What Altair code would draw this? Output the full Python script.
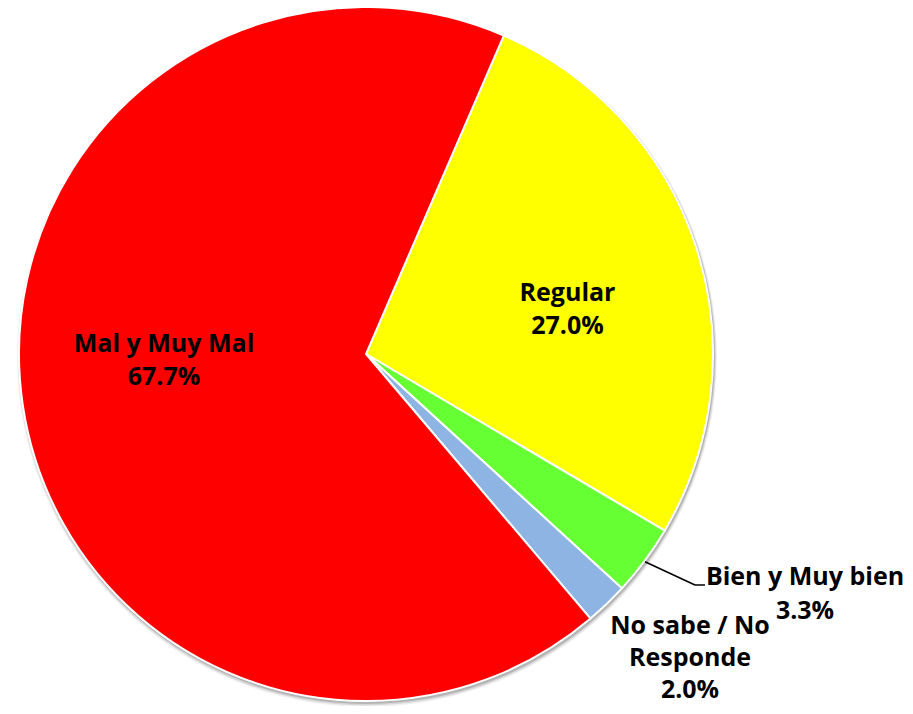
import math
import altair as alt
import pandas as pd

categories = ["Regular", "Bien y Muy bien", "No sabe / No Responde", "Mal y Muy Mal"]
values = [27.0, 3.3, 2.0, 67.7]
colors = ["#FFFF00", "#66FF33", "#8DB4E2", "#FF0000"]
label_lines = [
    ["Regular", "27.0%"],
    ["Bien y Muy bien", "3.3%"],
    ["No sabe / No", "Responde", "2.0%"],
    ["Mal y Muy Mal", "67.7%"],
]

df = pd.DataFrame({
    "cat": categories,
    "value": values,
    "idx": list(range(len(categories))),
    "label": ["\n".join(l) for l in label_lines],
})

start = math.radians(23.4)
CX, CY, R = 358, 346, 347
FONT = "Open Sans"

theta = alt.Theta("value:Q", stack=True, scale=alt.Scale(range=[start, start + 2 * math.pi]))
base = alt.Chart(df)

shadows = []
for dr, dx, dy, op in [(3, 1, 3, 0.06), (2, 1, 2.5, 0.10), (1, 1, 2, 0.16)]:
    shadows.append(
        base.mark_arc(outerRadius=R + dr, color="#000000", opacity=op, strokeWidth=0).encode(
            theta=theta, order=alt.Order("idx:O"),
            x=alt.value(CX + dx), y=alt.value(CY + dy),
        )
    )

pie = base.mark_arc(outerRadius=R, stroke="white", strokeWidth=2).encode(
    theta=theta,
    order=alt.Order("idx:O"),
    color=alt.Color("cat:N", scale=alt.Scale(domain=categories, range=colors), legend=None),
    x=alt.value(CX), y=alt.value(CY),
)

label_pos = {
    "Regular": (559.5, 292.7),
    "Bien y Muy bien": (797, 577),
    "No sabe / No Responde": (682, 626),
    "Mal y Muy Mal": (156, 343.7),
}
texts = []
for cat, (lx, ly) in label_pos.items():
    texts.append(
        base.transform_filter(alt.datum.cat == cat).mark_text(
            font=FONT, fontWeight="bold", fontSize=25, lineBreak="\n",
            lineHeight=32 if cat.startswith("No sabe") else 33.5,
            align="center", baseline="alphabetic", color="black",
        ).encode(text="label:N", x=alt.value(lx), y=alt.value(ly))
    )

lead1 = base.transform_filter(alt.datum.cat == "Bien y Muy bien").mark_rule(color="black", strokeWidth=1.5).encode(
    x=alt.value(637), y=alt.value(553.7), x2=alt.value(687), y2=alt.value(577))
lead2 = base.transform_filter(alt.datum.cat == "Bien y Muy bien").mark_rule(color="black", strokeWidth=1.5).encode(
    x=alt.value(687), y=alt.value(577), x2=alt.value(697), y2=alt.value(577))

chart = alt.layer(*shadows, pie, *texts, lead1, lead2).properties(
    width=897, height=698, autosize=alt.AutoSizeParams(type="none"), padding=0,
).configure_view(stroke=None)

chart.save("out.html", embed_options={"renderer": "svg", "actions": False})
